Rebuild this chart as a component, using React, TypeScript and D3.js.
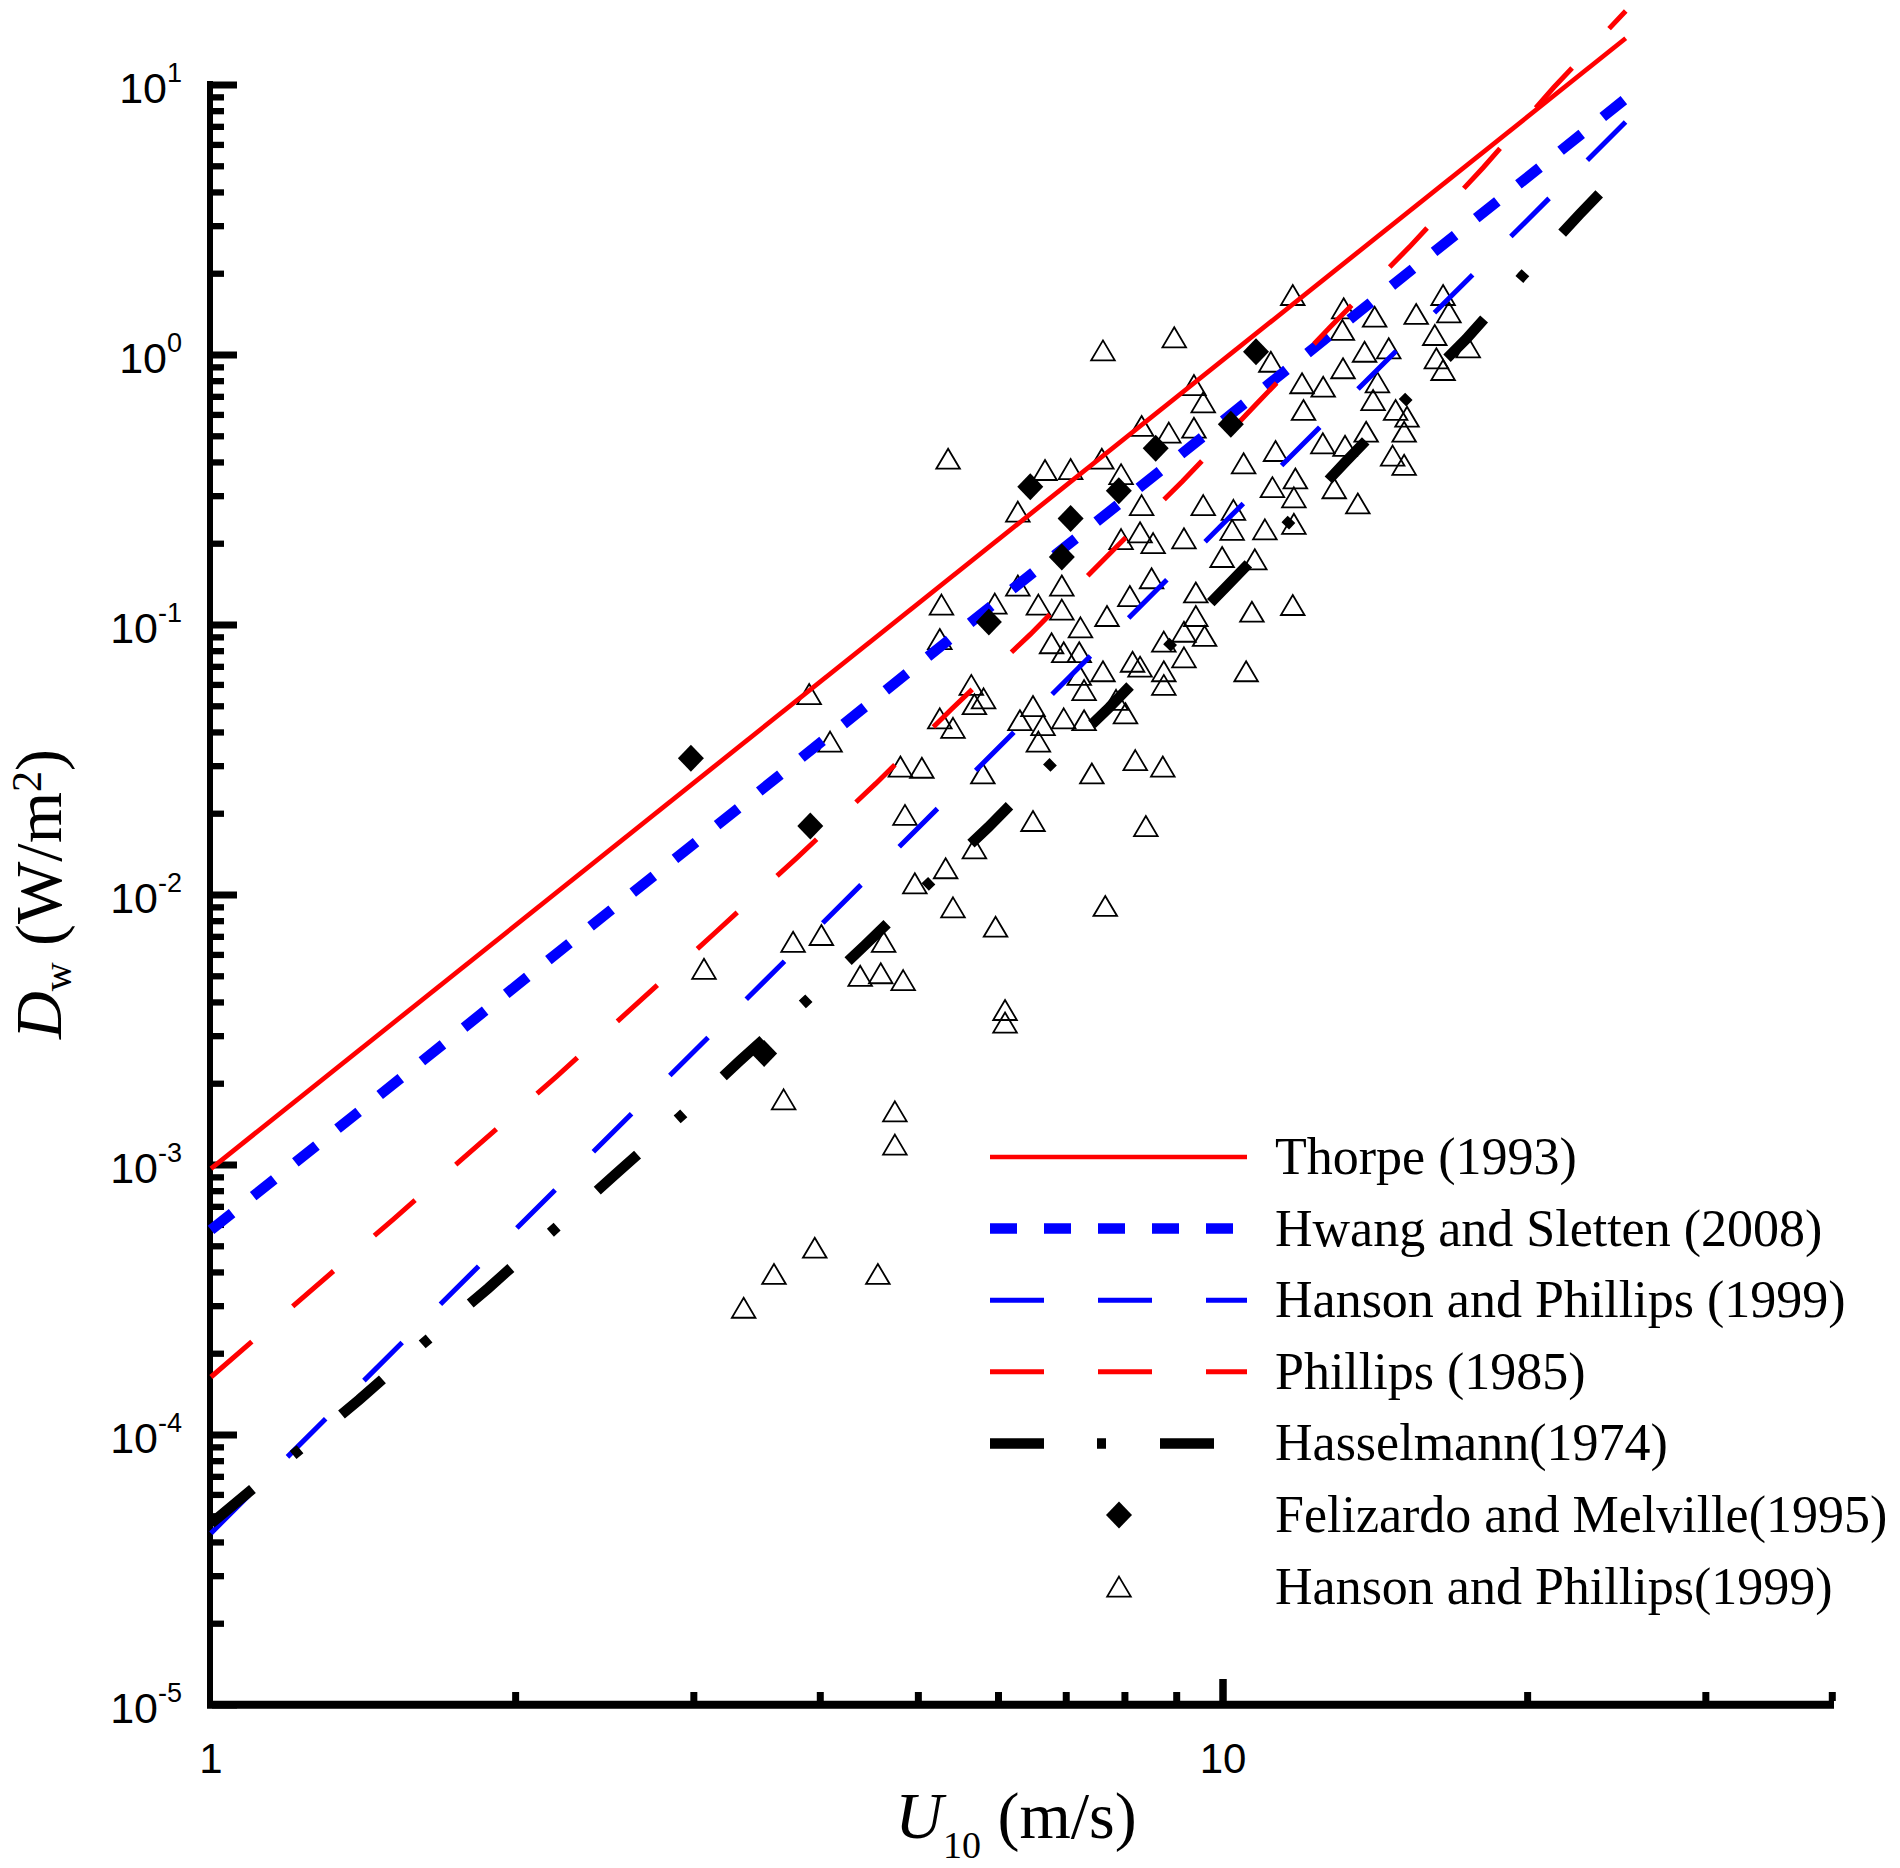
import * as d3 from 'd3';

const WIDTH = 1900;
const HEIGHT = 1868;

// axis extents
const xDomain: [number, number] = [1, 40];
const yDomain: [number, number] = [1e-5, 10];
const yTickExponents = ['-5', '-4', '-3', '-2', '-1', '0', '1'];
const xTickLabels = ['1', '10'];

// model curves as (U10, Dw) pairs
const thorpeU = [1, 25];
const thorpeD = [9.7e-4, 14.9];

const hwangU = [1, 25];
const hwangD = [5.75e-4, 8.9];

const hansonLineU = [1, 10, 25];
const hansonLineD = [4.33e-5, 0.237, 7.3];

const phillipsU = [1, 1.516, 2.196, 3.16, 3.79, 4.54, 5.4, 6.45, 7.66, 9.12, 10.83, 12.79, 15.28, 18.08, 21.22, 25];
const phillipsD = [1.64e-4, 6.32e-4, 2.13e-3, 7.34e-3, 0.0137, 0.0259, 0.0491, 0.0923, 0.178, 0.341, 0.668, 1.28, 2.51, 4.95, 9.79, 18.8];

const hasselmannU = [1, 1.401, 1.62, 1.878, 2.17, 2.509, 2.897, 3.33, 3.85, 4.43, 5.09, 5.86, 6.72, 7.72, 8.84, 10.11, 11.57, 13.22, 15.1, 17.39, 19.76, 22.51, 25];
const hasselmannD = [4.7e-5, 1.35e-4, 2.18e-4, 3.49e-4, 5.66e-4, 9.23e-4, 1.49e-3, 2.43e-3, 3.97e-3, 6.53e-3, 0.0108, 0.0178, 0.0299, 0.0495, 0.0836, 0.1406, 0.2366, 0.4026, 0.675, 1.146, 1.96, 3.32, 5.0];

// Felizardo and Melville (1995)
const felizardoPoints: [number, number][] = [
  [2.98, 0.0321], [3.91, 0.018], [3.52, 0.00259], [5.87, 0.1026], [6.45, 0.325],
  [6.93, 0.1786], [7.07, 0.248], [7.89, 0.314], [8.58, 0.451], [10.18, 0.554], [10.78, 1.028],
];

// Hanson and Phillips (1999) measurements
const hansonPoints: [number, number][] = [
  [7.61, 1.04], [5.35, 0.413], [6.67, 0.375], [7.07, 0.378], [7.59, 0.413], [6.27, 0.263],
  [5.27, 0.119], [5.95, 0.12], [6.27, 0.14], [6.93, 0.14], [6.57, 0.119], [6.93, 0.114],
  [7.68, 0.108], [7.23, 0.098], [5.25, 0.0887], [6.77, 0.0856], [6.96, 0.0793], [7.21, 0.0793],
  [7.61, 0.0674], [7.21, 0.0653], [7.29, 0.0574], [5.64, 0.06], [5.8, 0.0535], [5.68, 0.0509],
  [3.9, 0.0555], [6.49, 0.0501],
  [11.72, 1.668], [13.16, 1.489], [14.12, 1.386], [15.52, 1.419], [16.5, 1.668], [16.72, 1.439],
  [13.12, 1.238], [16.19, 1.186], [17.47, 1.068], [8.95, 1.163], [11.15, 0.944], [13.8, 1.028],
  [14.58, 1.059], [16.25, 0.972], [16.5, 0.88], [13.14, 0.893], [11.97, 0.786], [12.56, 0.763],
  [14.21, 0.792], [9.36, 0.774], [9.56, 0.668], [14.07, 0.681], [12.01, 0.626], [14.81, 0.626],
  [15.2, 0.591], [8.31, 0.546], [8.84, 0.516], [9.36, 0.538], [13.85, 0.52], [15.1, 0.52],
  [7.93, 0.362], [11.27, 0.441], [12.55, 0.471], [13.2, 0.461], [10.48, 0.397], [14.71, 0.424],
  [15.1, 0.392], [11.79, 0.349], [11.19, 0.324], [11.75, 0.297], [12.88, 0.321], [13.59, 0.282],
  [8.31, 0.278], [9.56, 0.278], [10.24, 0.267], [11.75, 0.237], [8.28, 0.2205], [7.93, 0.208],
  [8.53, 0.201], [9.15, 0.2095], [10.21, 0.225], [11.0, 0.226], [9.98, 0.1786], [10.75, 0.1751],
  [8.5, 0.149], [8.09, 0.128], [9.4, 0.132], [10.68, 0.112], [11.72, 0.1186], [9.4, 0.108],
  [9.15, 0.0944], [9.59, 0.0911], [8.74, 0.0868], [9.15, 0.0759], [8.14, 0.0731], [8.28, 0.0701],
  [8.74, 0.0674], [10.54, 0.0674], [8.74, 0.06],
  [4.09, 0.037], [5.25, 0.0451], [5.41, 0.0416], [6.3, 0.0444], [6.64, 0.0426], [6.96, 0.0451],
  [6.57, 0.037], [4.8, 0.0299], [5.04, 0.0296], [5.79, 0.0282], [4.85, 0.0198], [6.49, 0.0188],
  [5.68, 0.01489], [5.32, 0.01256], [4.96, 0.01105], [5.41, 0.009], [5.96, 0.00763], [3.76, 0.00671],
  [4.01, 0.00711], [4.62, 0.00671], [3.07, 0.00533], [4.38, 0.00502], [4.59, 0.00513], [4.83, 0.00484],
  [6.09, 0.00375], [6.09, 0.00337], [3.68, 0.00175], [4.74, 0.00158],
  [7.84, 0.0528], [7.29, 0.0444], [8.01, 0.0471], [8.19, 0.0316], [7.42, 0.0282], [8.72, 0.0299],
  [8.39, 0.018], [7.65, 0.00911],
  [4.74, 0.00119], [3.95, 0.000494], [3.6, 0.000395], [4.56, 0.000395], [3.36, 0.000296],
];

const legendNames = [
  'Thorpe (1993)',
  'Hwang and Sletten (2008)',
  'Hanson and Phillips (1999)',
  'Phillips (1985)',
  'Hasselmann(1974)',
  'Felizardo and Melville(1995)',
  'Hanson and Phillips(1999)',
];

const SERIF = "'Liberation Serif', 'Times New Roman', serif";
const SANS = "'Liberation Sans', Arial, sans-serif";

const TRIANGLE = 'M0,-10 L11.8,10 L-11.8,10 Z';
const DIAMOND = 'M0,-13.5 L13,0 L0,13.5 L-13,0 Z';

const x = d3.scaleLog().domain(xDomain).range([211, 211 + 1012 * Math.log10(40)]);
const y = d3.scaleLog().domain(yDomain).range([1705, 85]);

type Curve = { u: number[]; d: number[]; color: string; width: number; dash?: string };

const curves: Curve[] = [
  { u: thorpeU, d: thorpeD, color: '#ff0000', width: 4.7 },
  { u: hwangU, d: hwangD, color: '#0000ff', width: 10.5, dash: '27 27' },
  { u: hansonLineU, d: hansonLineD, color: '#0000ff', width: 5, dash: '54 54' },
  { u: phillipsU, d: phillipsD, color: '#ff0000', width: 5, dash: '54 54' },
  { u: hasselmannU, d: hasselmannD, color: '#000000', width: 10.5, dash: '54 53 9 54' },
];

const line = d3
  .line<[number, number]>()
  .x((p) => x(p[0]))
  .y((p) => y(p[1]));

export default function App() {
  const yMajor = yTickExponents.map((e) => Math.pow(10, Number(e)));
  const yMinor = y.ticks().filter((v) => Math.abs(Math.log10(v) - Math.round(Math.log10(v))) > 1e-6);
  const xMinor = x.ticks().filter((v) => v !== 1 && v !== 10);
  const legendY = (i: number) => 1157 + i * 71.6;

  return (
    <svg
      width={WIDTH}
      height={HEIGHT}
      viewBox={`0 0 ${WIDTH} ${HEIGHT}`}
      style={{ position: 'absolute', left: 0, top: 0, background: '#fff' }}
    >
      <rect width={WIDTH} height={HEIGHT} fill="#fff" />

      {/* axes */}
      <line x1={210} x2={210} y1={81} y2={1708} stroke="#000" strokeWidth={6} />
      <line x1={207} x2={1834} y1={1704.7} y2={1704.7} stroke="#000" strokeWidth={8} />
      {yMajor.map((v) => (
        <line key={`ym${v}`} x1={212} x2={237} y1={y(v)} y2={y(v)} stroke="#000" strokeWidth={7} />
      ))}
      {yMinor.map((v) => (
        <line key={`yn${v}`} x1={212} x2={224} y1={y(v)} y2={y(v)} stroke="#000" strokeWidth={6.3} />
      ))}
      {xMinor.map((v) => (
        <line key={`xn${v}`} x1={x(v)} x2={x(v)} y1={1701} y2={1692} stroke="#000" strokeWidth={7} />
      ))}
      <line x1={x(10)} x2={x(10)} y1={1701} y2={1679} stroke="#000" strokeWidth={7.5} />

      {yMajor.map((v, i) => (
        <text key={`yl${v}`} x={182} y={y(v) + 18} textAnchor="end" fontFamily={SANS} fontSize={43}>
          <tspan>10</tspan>
          <tspan dy={-21} fontSize={27}>
            {yTickExponents[i]}
          </tspan>
        </text>
      ))}
      {xTickLabels.map((t) => (
        <text key={`xl${t}`} x={x(Number(t))} y={1773} textAnchor="middle" fontFamily={SANS} fontSize={42}>
          {t}
        </text>
      ))}

      <text x={1016} y={1838} textAnchor="middle" fontFamily={SERIF} fontSize={66}>
        <tspan fontStyle="italic">U</tspan>
        <tspan fontSize={38} dy={20}>
          10
        </tspan>
        <tspan dy={-20}> (m/s)</tspan>
      </text>
      <text transform="translate(61,894) rotate(-90)" textAnchor="middle" fontFamily={SERIF} fontSize={66}>
        <tspan fontStyle="italic">D</tspan>
        <tspan fontSize={40} dy={10}>
          w
        </tspan>
        <tspan dy={-10}> (W/m</tspan>
        <tspan fontSize={42} dy={-20}>
          2
        </tspan>
        <tspan dy={20}>)</tspan>
      </text>

      {/* Hanson and Phillips measurements */}
      {hansonPoints.map((p, i) => (
        <path
          key={`hp${i}`}
          d={TRIANGLE}
          transform={`translate(${x(p[0])},${y(p[1])})`}
          fill="none"
          stroke="#000"
          strokeWidth={1.8}
        />
      ))}

      {/* model curves */}
      {curves.map((c, i) => (
        <path
          key={`c${i}`}
          d={line(c.u.map((u, j) => [u, c.d[j]] as [number, number])) ?? ''}
          fill="none"
          stroke={c.color}
          strokeWidth={c.width}
          strokeDasharray={c.dash}
        />
      ))}

      {felizardoPoints.map((p, i) => (
        <path key={`fm${i}`} d={DIAMOND} transform={`translate(${x(p[0])},${y(p[1])})`} fill="#000" />
      ))}

      {/* legend */}
      {curves.map((c, i) => (
        <line
          key={`lg${i}`}
          x1={990}
          x2={1247}
          y1={legendY(i)}
          y2={legendY(i)}
          stroke={c.color}
          strokeWidth={c.width}
          strokeDasharray={c.dash}
        />
      ))}
      <path d={DIAMOND} transform={`translate(1119,${legendY(5)})`} fill="#000" />
      <path d={TRIANGLE} transform={`translate(1119,${legendY(6)})`} fill="none" stroke="#000" strokeWidth={1.8} />
      {legendNames.map((n, i) => (
        <text key={n} x={1275} y={legendY(i) + 17} fontFamily={SERIF} fontSize={52}>
          {n}
        </text>
      ))}
    </svg>
  );
}
